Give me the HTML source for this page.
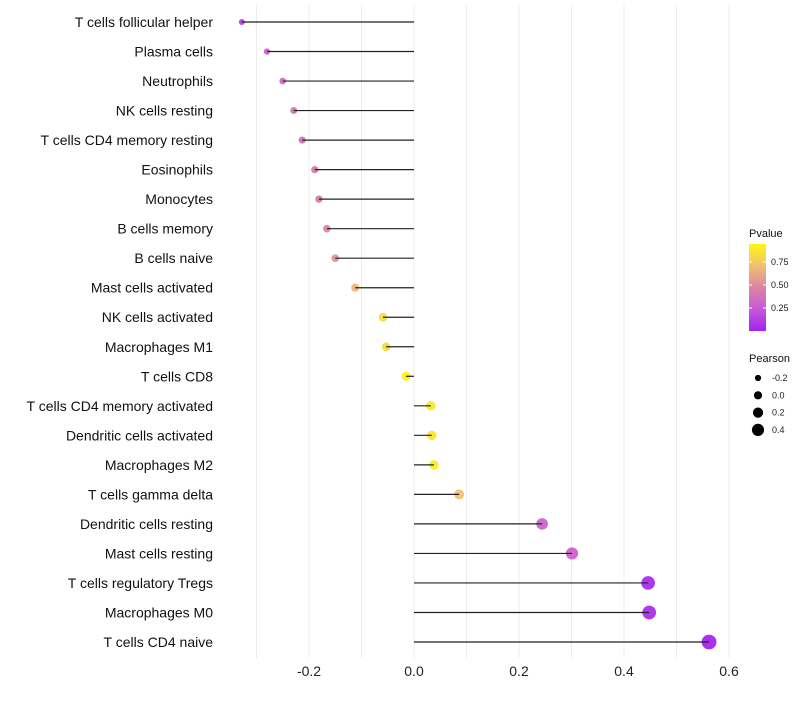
<!DOCTYPE html><html><head><meta charset="utf-8"><style>body{margin:0;background:#fff}svg text{font-family:"Liberation Sans",Arial,sans-serif}</style></head><body>
<svg id="c" width="800" height="700"></svg>
<script>
const categories=["T cells follicular helper","Plasma cells","Neutrophils","NK cells resting","T cells CD4 memory resting","Eosinophils","Monocytes","B cells memory","B cells naive","Mast cells activated","NK cells activated","Macrophages M1","T cells CD8","T cells CD4 memory activated","Dendritic cells activated","Macrophages M2","T cells gamma delta","Dendritic cells resting","Mast cells resting","T cells regulatory  Tregs","Macrophages M0","T cells CD4 naive"];
const pearson=[-0.328,-0.28,-0.25,-0.229,-0.213,-0.189,-0.181,-0.166,-0.150,-0.112,-0.059,-0.053,-0.015,0.032,0.034,0.038,0.086,0.244,0.301,0.446,0.448,0.562];
const pvalue=[0.15,0.3,0.35,0.4,0.4,0.45,0.45,0.5,0.55,0.7,0.85,0.85,0.95,0.9,0.9,0.92,0.75,0.32,0.3,0.06,0.06,0.03];
const xTicks=[-0.2,0,0.2,0.4,0.6];
const xTickLabels=["-0.2","0.0","0.2","0.4","0.6"];
const gridVals=[-0.3,-0.2,-0.1,0,0.1,0.2,0.3,0.4,0.5,0.6];
const sizeLegend=[-0.2,0,0.2,0.4];
const pTicks=[0.25,0.5,0.75];
const NS="http://www.w3.org/2000/svg",svg=document.getElementById('c');
const x=v=>414+v*525, y=i=>22+i*29.524, r=v=>4.6+5*v;
const stops=[[0,[160,32,240]],[0.25,[198,88,218]],[0.5,[222,132,160]],[0.75,[242,196,110]],[1,[255,255,0]]];
function col(p){for(let k=1;k<stops.length;k++){if(p<=stops[k][0]){const[a0,a]=stops[k-1],[b0,b]=stops[k];const t=(p-a0)/(b0-a0);return `rgb(${a.map((c,j)=>Math.round(c+(b[j]-c)*t)).join(',')})`;}}return 'rgb(255,255,0)';}
function mk(t,at,txt){const e=document.createElementNS(NS,t);for(const k in at)e.setAttribute(k,at[k]);if(txt!=null)e.textContent=txt;svg.appendChild(e);return e;}
gridVals.forEach(g=>{const e=mk('line',{x1:x(g),x2:x(g),y1:5,y2:658,stroke:'#ececec','stroke-width':1});

});
xTicks.forEach((t,i)=>{const e=mk('text',{x:x(t),y:676,'text-anchor':'middle','font-size':14,fill:'#222'},xTickLabels[i]);

});
categories.forEach((c,i)=>{
const l=mk('text',{x:213,y:y(i)+5,'text-anchor':'end','font-size':14,fill:'#111'},c);


const d=mk('circle',{cx:x(pearson[i]),cy:y(i),r:r(pearson[i]),fill:col(pvalue[i]),opacity:0.95});


const s=mk('line',{x1:x(pearson[i]),x2:x(0),y1:y(i),y2:y(i),stroke:'#222','stroke-width':1.2});


});
const g=mk('defs',{});g.innerHTML='<linearGradient id="pg" x1="0" y1="1" x2="0" y2="0">'+[0,0.25,0.5,0.75,1].map(o=>'<stop offset="'+o+'" stop-color="'+col(0.02+o*0.95)+'"/>').join('')+'</linearGradient>';
const lt=mk('text',{x:749,y:237,'font-size':11,fill:'#111'},'Pvalue');
const cb=mk('rect',{x:749,y:244,width:17,height:87,fill:'url(#pg)'});
pTicks.forEach(p=>{const yy=331-p*92;const t=mk('text',{x:771,y:yy+3,'font-size':9,fill:'#222'},p.toFixed(2));
const tk=mk('line',{x1:749,x2:752,y1:yy,y2:yy,stroke:'#fff'});
const tk2=mk('line',{x1:763,x2:766,y1:yy,y2:yy,stroke:'#fff'});});
const st=mk('text',{x:749,y:362,'font-size':11,fill:'#111'},'Pearson');
sizeLegend.forEach((v,i)=>{const yy=378+i*17.3;const c=mk('circle',{cx:758,cy:yy,r:r(v)-0.5,fill:'#000'});
const t=mk('text',{x:772,y:yy+3,'font-size':9,fill:'#222'},v.toFixed(1));});
</script></body></html>
